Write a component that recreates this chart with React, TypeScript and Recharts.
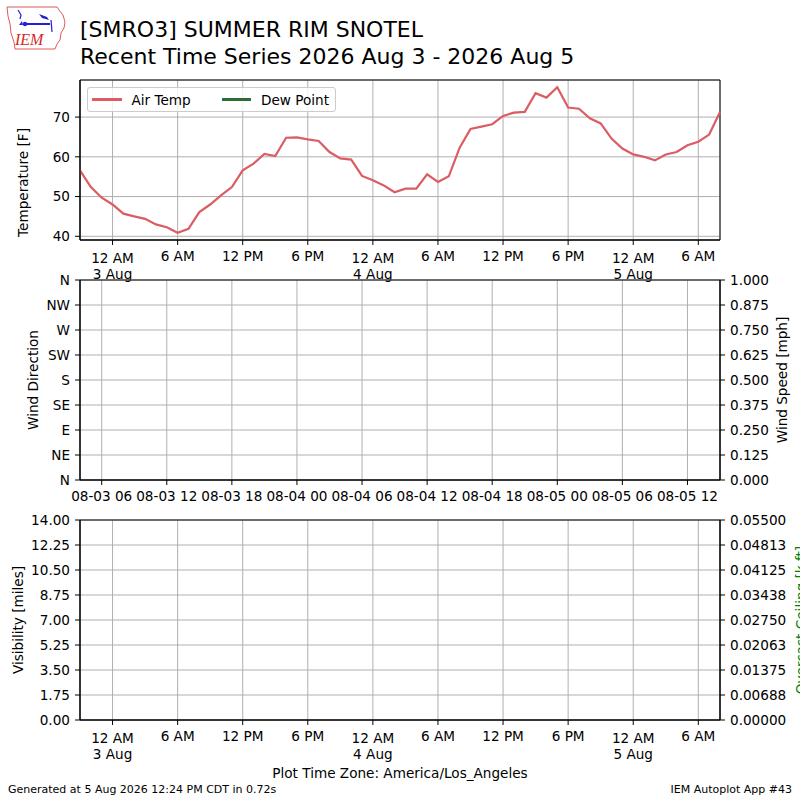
import React from 'react';
import { LineChart, Line, XAxis, YAxis, CartesianGrid, ReferenceArea, Legend } from 'recharts';

const FONT = '"DejaVu Sans", sans-serif';

// hours after 12 AM 3 Aug (America/Los_Angeles), hourly obs
const hours = [
  -3, -2, -1, 0, 1, 2, 3, 4, 5, 6, 7, 8, 9, 10, 11, 12, 13, 14, 15, 16,
  17, 18, 19, 20, 21, 22, 23, 24, 25, 26, 27, 28, 29, 30, 31, 32, 33, 34, 35, 36,
  37, 38, 39, 40, 41, 42, 43, 44, 45, 46, 47, 48, 49, 50, 51, 52, 53, 54, 55, 56,
];
const airTemp = [
  56.6, 52.4, 49.7, 48.0, 45.7, 45.0, 44.4, 43.0, 42.3, 40.9, 41.9, 46.1, 48.0, 50.3, 52.4, 56.6, 58.3, 60.7, 60.2, 64.8,
  64.9, 64.4, 64.0, 61.2, 59.6, 59.3, 55.2, 54.1, 52.8, 51.1, 52.0, 52.0, 55.6, 53.7, 55.1, 62.3, 67.0, 67.6, 68.2, 70.3,
  71.1, 71.3, 76.0, 74.9, 77.5, 72.4, 72.1, 69.7, 68.4, 64.6, 62.1, 60.6, 60.0, 59.1, 60.6, 61.2, 62.9, 63.8, 65.6, 71.3,
];

const timeDomain = [-3, 56];
const tempDomain = [39.07, 79.33];
const tempTicks = [40, 50, 60, 70];

const localTickHours = [0, 6, 12, 18, 24, 30, 36, 42, 48, 54];
const localTickLabels = [
  '12 AM\n3 Aug', '6 AM', '12 PM', '6 PM', '12 AM\n4 Aug',
  '6 AM', '12 PM', '6 PM', '12 AM\n5 Aug', '6 AM',
];
const utcTickHours = [-1, 5, 11, 17, 23, 29, 35, 41, 47, 53];
const utcTickLabels = [
  '08-03 06', '08-03 12', '08-03 18', '08-04 00', '08-04 06',
  '08-04 12', '08-04 18', '08-05 00', '08-05 06', '08-05 12',
];

const dirTicks = [0, 45, 90, 135, 180, 225, 270, 315, 360];
const dirLabels = ['N', 'NE', 'E', 'SE', 'S', 'SW', 'W', 'NW', 'N'];
const speedTicks = [0, 0.125, 0.25, 0.375, 0.5, 0.625, 0.75, 0.875, 1];
const speedLabels = ['0.000', '0.125', '0.250', '0.375', '0.500', '0.625', '0.750', '0.875', '1.000'];
const visTicks = [0, 1.75, 3.5, 5.25, 7, 8.75, 10.5, 12.25, 14];
const visLabels = ['0.00', '1.75', '3.50', '5.25', '7.00', '8.75', '10.50', '12.25', '14.00'];
const ceilTicks = [0, 0.006875, 0.01375, 0.020625, 0.0275, 0.034375, 0.04125, 0.048125, 0.055];
const ceilLabels = ['0.00000', '0.00688', '0.01375', '0.02063', '0.02750', '0.03438', '0.04125', '0.04813', '0.05500'];

const tempData = hours.map((h, i) => ({ h, tmpf: airTemp[i] }));
// no wind / visibility / ceiling reports in this period
const emptyData = hours.map((h) => ({ h }));

const labelFor = (ticks: number[], labels: string[]) => (v: number) => {
  const i = ticks.indexOf(v);
  return i >= 0 ? labels[i] : '';
};

const TimeTick = ({ x, y, payload, ticks, labels }: any) => {
  const lines = labelFor(ticks, labels)(payload.value).split('\n');
  return (
    <text x={x} y={y} textAnchor="middle" fontSize={13.6} fontFamily={FONT} fill="#000">
      {lines.map((l, i) => (
        <tspan key={i} x={x} dy={i === 0 ? (lines.length > 1 ? 17.5 : 15.5) : 16.5}>
          {l}
        </tspan>
      ))}
    </text>
  );
};

const LegendBox = ({ payload }: any) => (
  <div
    style={{
      boxSizing: 'border-box', width: 249, height: 25, border: '1px solid #cccccc', borderRadius: 3,
      background: 'rgba(255,255,255,0.8)', display: 'flex', alignItems: 'center', paddingLeft: 4,
      fontFamily: FONT, fontSize: 13.6, color: '#000',
    }}
  >
    {(payload || []).map((e: any, i: number) => (
      <div key={i} style={{ display: 'flex', alignItems: 'center', width: i === 0 ? 129.5 : 'auto' }}>
        <span style={{ display: 'inline-block', width: 29.5, height: 2.5, background: e.color, marginRight: 10 }} />
        <span>{e.value}</span>
      </div>
    ))}
  </div>
);

const tickStyle = { fontSize: 13.6, fill: '#000', fontFamily: FONT };
const axisLine = { stroke: '#000', strokeWidth: 1 };
const tickLine = { stroke: '#000', strokeWidth: 1 };
const GRID = '#b0b0b0';

export default function App() {
  return (
    <div style={{ position: 'absolute', left: 0, top: 0, width: 800, height: 800, background: '#fff', overflow: 'hidden' }}>
      {/* temperature panel */}
      <div style={{ position: 'absolute', left: 0, top: 0 }}>
        <LineChart width={800} height={300} data={tempData} margin={{ top: 80, right: 80, bottom: 0, left: 0 }}>
          <CartesianGrid stroke={GRID} strokeWidth={1} />
          <XAxis
            dataKey="h" type="number" domain={timeDomain} ticks={localTickHours} interval={0} height={60}
            tickSize={5} tickMargin={0} axisLine={axisLine} tickLine={tickLine}
            tick={(p: any) => <TimeTick {...p} ticks={localTickHours} labels={localTickLabels} />}
          />
          <YAxis
            type="number" domain={tempDomain} ticks={tempTicks} width={80} tickSize={5} tickMargin={5}
            allowDataOverflow axisLine={axisLine} tickLine={tickLine} tick={tickStyle}
          />
          <ReferenceArea x1={timeDomain[0]} x2={timeDomain[1]} y1={tempDomain[0]} y2={tempDomain[1]} fill="none" stroke="#000" strokeWidth={1} />
          <Line type="linear" dataKey="tmpf" name="Air Temp" stroke="#dc5c63" strokeWidth={2.2} dot={false} isAnimationActive={false} />
          <Line type="linear" dataKey="dwpf" name="Dew Point" stroke="#2f6b35" strokeWidth={2.2} dot={false} isAnimationActive={false} />
          <Legend
            layout="horizontal" verticalAlign="middle" align="center"
            wrapperStyle={{ top: 87, left: 87, width: 'auto' }}
            content={<LegendBox />}
          />
        </LineChart>
      </div>

      {/* wind panel */}
      <div style={{ position: 'absolute', left: 0, top: 260 }}>
        <LineChart width={800} height={260} data={emptyData} margin={{ top: 20, right: 0, bottom: 0, left: 0 }}>
          <CartesianGrid stroke={GRID} strokeWidth={1} />
          <XAxis
            dataKey="h" type="number" domain={timeDomain} ticks={utcTickHours} interval={0} height={40}
            tickSize={5} tickMargin={0} axisLine={axisLine} tickLine={tickLine}
            tick={(p: any) => <TimeTick {...p} ticks={utcTickHours} labels={utcTickLabels} />}
          />
          <YAxis
            type="number" domain={[0, 360]} ticks={dirTicks} width={80} tickSize={5} tickMargin={5} allowDataOverflow
            interval={0} axisLine={axisLine} tickLine={tickLine} tick={tickStyle} tickFormatter={labelFor(dirTicks, dirLabels)}
          />
          <YAxis
            yAxisId="r" orientation="right" type="number" domain={[0, 1]} ticks={speedTicks} width={80} allowDataOverflow
            interval={0} tickSize={5} tickMargin={5} axisLine={axisLine} tickLine={tickLine} tick={tickStyle}
            tickFormatter={labelFor(speedTicks, speedLabels)}
          />
          <ReferenceArea x1={timeDomain[0]} x2={timeDomain[1]} y1={0} y2={360} fill="none" stroke="#000" strokeWidth={1} />
          <Line type="linear" dataKey="drct" stroke="#000" dot={false} isAnimationActive={false} />
          <Line yAxisId="r" type="linear" dataKey="sknt" stroke="#1f77b4" dot={false} isAnimationActive={false} />
        </LineChart>
      </div>

      {/* visibility / ceiling panel */}
      <div style={{ position: 'absolute', left: 0, top: 500 }}>
        <LineChart width={800} height={280} data={emptyData} margin={{ top: 20, right: 0, bottom: 0, left: 0 }}>
          <CartesianGrid stroke={GRID} strokeWidth={1} />
          <XAxis
            dataKey="h" type="number" domain={timeDomain} ticks={localTickHours} interval={0} height={60}
            tickSize={5} tickMargin={0} axisLine={axisLine} tickLine={tickLine}
            tick={(p: any) => <TimeTick {...p} ticks={localTickHours} labels={localTickLabels} />}
          />
          <YAxis
            type="number" domain={[0, 14]} ticks={visTicks} width={80} tickSize={5} tickMargin={5} allowDataOverflow
            interval={0} axisLine={axisLine} tickLine={tickLine} tick={tickStyle} tickFormatter={labelFor(visTicks, visLabels)}
          />
          <YAxis
            yAxisId="r" orientation="right" type="number" domain={[0, 0.055]} ticks={ceilTicks} width={80} allowDataOverflow
            interval={0} tickSize={5} tickMargin={5} axisLine={axisLine} tickLine={tickLine} tick={tickStyle}
            tickFormatter={labelFor(ceilTicks, ceilLabels)}
          />
          <ReferenceArea x1={timeDomain[0]} x2={timeDomain[1]} y1={0} y2={14} fill="none" stroke="#000" strokeWidth={1} />
          <Line type="linear" dataKey="vsby" stroke="#000" dot={false} isAnimationActive={false} />
          <Line yAxisId="r" type="linear" dataKey="ceil" stroke="green" dot={false} isAnimationActive={false} />
        </LineChart>
      </div>

      {/* titles, axis labels, footer, logo */}
      <svg width={800} height={800} style={{ position: 'absolute', left: 0, top: 0, pointerEvents: 'none' }}>
        <g>
          <polygon
            points="7,7 57,7 59,10 63,15 65,22 64,28 61,33 60,40 57,44 55,49 15,49 14,42 11,33 10,24 8,16"
            fill="none" stroke="#e05a5a" strokeWidth={1}
          />
          <line x1={24} y1={24} x2={50} y2={24} stroke="#2020d8" strokeWidth={2} />
          <circle cx={25} cy={24} r={2.2} fill="#2020d8" />
          <path d="M18,10 L21,15 L20,19" stroke="#2020d8" fill="none" strokeWidth={1.2} />
          <polygon points="19,25 22,21 23,25" fill="#2020d8" />
          <polygon points="39,14 47,17 49,20 42,18" fill="#2020d8" />
          <line x1={51} y1={20} x2={52} y2={32} stroke="#2020d8" strokeWidth={1.2} />
          <text x={15} y={45} fontFamily='"Liberation Serif", serif' fontStyle="italic" fontSize={16} fill="#d42828">IEM</text>
        </g>
        <text x={80} y={37} fontFamily={FONT} fontSize={22} fill="#000">[SMRO3] SUMMER RIM SNOTEL</text>
        <text x={80} y={64} fontFamily={FONT} fontSize={22} fill="#000">Recent Time Series 2026 Aug 3 - 2026 Aug 5</text>

        <text transform="translate(22.5,182.5) rotate(-90)" textAnchor="middle" dominantBaseline="central" fontFamily={FONT} fontSize={13.6} fill="#000">Temperature [F]</text>
        <text transform="translate(32.5,380) rotate(-90)" textAnchor="middle" dominantBaseline="central" fontFamily={FONT} fontSize={13.6} fill="#000">Wind Direction</text>
        <text transform="translate(781.5,380) rotate(-90)" textAnchor="middle" dominantBaseline="central" fontFamily={FONT} fontSize={13.6} fill="#000">Wind Speed [mph]</text>
        <text transform="translate(17.5,620) rotate(-90)" textAnchor="middle" dominantBaseline="central" fontFamily={FONT} fontSize={13.6} fill="#000">Visibility [miles]</text>
        <text transform="translate(801,620) rotate(-90)" textAnchor="middle" dominantBaseline="central" fontFamily={FONT} fontSize={13.6} fill="#008000">Overcast Ceiling [k ft]</text>

        <text x={400} y={778} textAnchor="middle" fontFamily={FONT} fontSize={13.6} fill="#000">Plot Time Zone: America/Los_Angeles</text>
        <text x={8} y={793} fontFamily={FONT} fontSize={11} fill="#000">Generated at 5 Aug 2026 12:24 PM CDT in 0.72s</text>
        <text x={792} y={793} textAnchor="end" fontFamily={FONT} fontSize={11} fill="#000">IEM Autoplot App #43</text>
      </svg>
    </div>
  );
}
